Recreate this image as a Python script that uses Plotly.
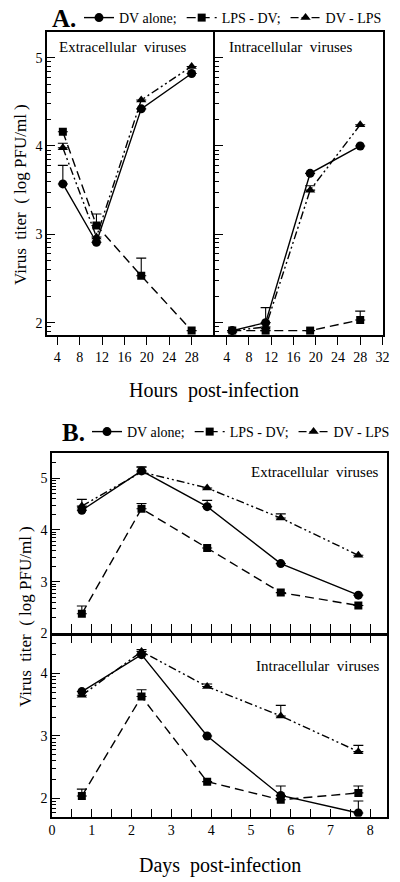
import math
import plotly.graph_objects as go

# ---------------- data ----------------
series_names = ["DV alone;", "LPS - DV;", "DV - LPS"]

# Panel A (hours post-infection)
hours = [5, 11, 19, 28]
a_ext_dv = [3.57, 2.91, 4.42, 4.82]
a_ext_dv_err = [0.21, 0.0, 0.0, 0.0]
a_ext_lpsdv = [4.16, 3.10, 2.53, 1.91]
a_ext_lpsdv_err = [0.0, 0.13, 0.20, 0.0]
a_ext_dvlps = [3.98, 2.97, 4.52, 4.90]
a_ext_dvlps_err = [0.05, 0.0, 0.0, 0.0]

a_int_dv = [1.91, 2.00, 3.69, 4.00]
a_int_dv_err = [0.0, 0.17, 0.0, 0.0]
a_int_lpsdv = [1.91, 1.91, 1.91, 2.03]
a_int_lpsdv_err = [0.0, 0.0, 0.0, 0.10]
a_int_dvlps = [1.91, 1.95, 3.50, 4.24]
a_int_dvlps_err = [0.0, 0.0, 0.05, 0.0]

# Panel B (days post-infection)
days = [0.75, 2.25, 3.9, 5.75, 7.7]
b_ext_dv = [4.38, 5.14, 4.45, 3.35, 2.74]
b_ext_dv_err = [0.0, 0.07, 0.12, 0.0, 0.0]
b_ext_lpsdv = [2.38, 4.41, 3.65, 2.79, 2.54]
b_ext_lpsdv_err = [0.15, 0.10, 0.0, 0.0, 0.0]
b_ext_dvlps = [4.46, 5.12, 4.81, 4.23, 3.51]
b_ext_dvlps_err = [0.13, 0.10, 0.0, 0.08, 0.0]

b_int_dv = [3.71, 4.30, 3.00, 2.05, 1.77]
b_int_dv_err = [0.0, 0.0, 0.0, 0.0, 0.19]
b_int_lpsdv = [2.04, 3.63, 2.27, 1.98, 2.09]
b_int_lpsdv_err = [0.11, 0.11, 0.0, 0.22, 0.11]
b_int_dvlps = [3.65, 4.35, 3.79, 3.32, 2.75]
b_int_dvlps_err = [0.0, 0.03, 0.04, 0.17, 0.10]

a_left_xticks = [4, 8, 12, 16, 20, 24, 28]
a_right_xticks = [4, 8, 12, 16, 20, 24, 28, 32]
a_yticks = [2, 3, 4, 5]
b_upper_yticks = [2, 3, 4, 5]
b_lower_yticks = [2, 3, 4]
b_xticks = [0, 1, 2, 3, 4, 5, 6, 7, 8]

# ---------------- style ----------------
FONT = "Liberation Serif, Times New Roman, Times, serif"
W, H = 400, 882
LW = 1.5
styles = [
    dict(line=dict(color="black", width=1.4, dash="solid"),
         marker=dict(symbol="circle", size=9, color="black")),
    dict(line=dict(color="black", width=1.4, dash="9px,5px"),
         marker=dict(symbol="square", size=8, color="black")),
    dict(line=dict(color="black", width=1.4, dash="8px,3px,2px,3px,2px,3px"),
         marker=dict(symbol="triangle-up", size=9, color="black")),
]

log_minor = [n + math.log10(k) for n in range(1, 6) for k in range(2, 10)]


def px_x(p):
    return p / W


def px_y(p):
    return 1 - p / H


fig = go.Figure()


def add_panel(x, ys, errs, xa, ya, legend, showlegend):
    for i, (y, e) in enumerate(zip(ys, errs)):
        fig.add_trace(go.Scatter(
            x=x, y=y, mode="lines+markers", name=series_names[i],
            xaxis=xa, yaxis=ya, legend=legend, showlegend=showlegend,
            line=styles[i]["line"], marker=styles[i]["marker"],
            error_y=dict(type="data", symmetric=False, array=e,
                         arrayminus=[0] * len(e), color="black",
                         thickness=1.1, width=5),
        ))


add_panel(hours, [a_ext_dv, a_ext_lpsdv, a_ext_dvlps],
          [a_ext_dv_err, a_ext_lpsdv_err, a_ext_dvlps_err], "x", "y", "legend", True)
add_panel(hours, [a_int_dv, a_int_lpsdv, a_int_dvlps],
          [a_int_dv_err, a_int_lpsdv_err, a_int_dvlps_err], "x2", "y2", "legend", False)
add_panel(days, [b_ext_dv, b_ext_lpsdv, b_ext_dvlps],
          [b_ext_dv_err, b_ext_lpsdv_err, b_ext_dvlps_err], "x3", "y3", "legend2", True)
add_panel(days, [b_int_dv, b_int_lpsdv, b_int_dvlps],
          [b_int_dv_err, b_int_lpsdv_err, b_int_dvlps_err], "x4", "y4", "legend2", False)

tickfont = dict(family=FONT, size=14, color="black")
common = dict(showline=True, linecolor="black", linewidth=LW, showgrid=False,
              zeroline=False, tickcolor="black", tickfont=tickfont)

h = LW / 2
A_dom_y = [px_y(335), px_y(32)]
B_up_dom_y = [px_y(634.5 - h), px_y(453.3)]
B_lo_dom_y = [px_y(816.7), px_y(634.5 + h)]
B_dom_x = [px_x(52), px_x(387)]

ymin = dict(tickmode="array", tickvals=log_minor, ticks="inside", ticklen=4,
            tickcolor="black", tickwidth=1)

legend_common = dict(orientation="h", xanchor="left", yanchor="middle",
                     bgcolor="rgba(0,0,0,0)", borderwidth=0,
                     font=dict(family=FONT, size=14, color="black"),
                     itemwidth=30, tracegroupgap=0)

fig.update_layout(
    width=W, height=H, margin=dict(l=0, r=0, t=0, b=0, autoexpand=False),
    paper_bgcolor="white", plot_bgcolor="white",
    font=dict(family=FONT, color="black"),
    xaxis=dict(domain=[px_x(47), px_x(214 - h)], range=[2.17, 31.86], anchor="y",
               mirror=True, ticks="outside", ticklen=8, tickwidth=1.3,
               tickmode="array", tickvals=a_left_xticks, **common),
    yaxis=dict(domain=A_dom_y, range=[1.86, 5.29], anchor="x", mirror=True,
               ticks="inside", ticklen=8, tickwidth=1.3, tickmode="array",
               tickvals=a_yticks, minor=ymin, **common),
    xaxis2=dict(domain=[px_x(214 + h), px_x(383)], range=[1.85, 32.1], anchor="y2",
                mirror=True, ticks="outside", ticklen=8, tickwidth=1.3,
                tickmode="array", tickvals=a_right_xticks, **common),
    yaxis2=dict(domain=A_dom_y, range=[1.86, 5.29], anchor="x2", mirror=True,
                ticks="inside", ticklen=8, tickwidth=1.3, tickmode="array",
                tickvals=a_yticks, showticklabels=False, minor=ymin, **common),
    xaxis3=dict(domain=B_dom_x, range=[0, 8.42], anchor="y3", mirror=True,
                ticks="inside", ticklen=10, tickwidth=1.3, tickmode="array",
                tickvals=b_xticks, showticklabels=False,
                minor=dict(dtick=0.5, tick0=0, ticks="inside", ticklen=10,
                           tickcolor="black", tickwidth=1.3),
                **common),
    yaxis3=dict(domain=B_up_dom_y, range=[1.995, 5.48], anchor="x3", mirror=True,
                ticks="inside", ticklen=8, tickwidth=1.3, tickmode="array",
                tickvals=b_upper_yticks, minor=ymin, **common),
    xaxis4=dict(domain=B_dom_x, range=[0, 8.42], anchor="y4", mirror="ticks",
                ticks="inside", ticklen=8, tickwidth=1.3, tickmode="array",
                tickvals=b_xticks,
                minor=dict(dtick=0.5, tick0=0, ticks="inside", ticklen=8,
                           tickcolor="black", tickwidth=1.3),
                **common),
    yaxis4=dict(domain=B_lo_dom_y, range=[1.71, 4.61], anchor="x4", mirror=True,
                ticks="inside", ticklen=8, tickwidth=1.3, tickmode="array",
                tickvals=b_lower_yticks, minor=ymin, **common),
    legend=dict(x=px_x(79), y=px_y(18), **legend_common),
    legend2=dict(x=px_x(87), y=px_y(432), **legend_common),
)

ann_font = dict(family=FONT, size=15, color="black")
title_font = dict(family=FONT, size=17, color="black")
xt_font = dict(family=FONT, size=20, color="black")
panel_font = dict(family=FONT, size=25, color="black")

fig.add_annotation(text="<b>A.</b>", xref="paper", yref="paper",
                   x=px_x(50), y=px_y(18), xanchor="left", yanchor="middle",
                   showarrow=False, font=panel_font)
fig.add_annotation(text="<b>B.</b>", xref="paper", yref="paper",
                   x=px_x(60), y=px_y(432), xanchor="left", yanchor="middle",
                   showarrow=False, font=panel_font)

fig.add_annotation(text="Extracellular&nbsp;&nbsp;viruses", xref="paper", yref="paper",
                   x=px_x(57), y=px_y(47), xanchor="left", yanchor="middle",
                   showarrow=False, font=ann_font)
fig.add_annotation(text="Intracellular&nbsp;&nbsp;viruses", xref="paper", yref="paper",
                   x=px_x(227), y=px_y(47), xanchor="left", yanchor="middle",
                   showarrow=False, font=ann_font)
fig.add_annotation(text="Extracellular&nbsp;&nbsp;viruses", xref="paper", yref="paper",
                   x=px_x(381), y=px_y(472), xanchor="right", yanchor="middle",
                   showarrow=False, font=ann_font)
fig.add_annotation(text="Intracellular&nbsp;&nbsp;viruses", xref="paper", yref="paper",
                   x=px_x(381), y=px_y(666), xanchor="right", yanchor="middle",
                   showarrow=False, font=ann_font)

fig.add_annotation(text="Virus&nbsp;&nbsp;titer&nbsp;&nbsp;(&nbsp;log PFU/ml&nbsp;)",
                   xref="paper", yref="paper", x=px_x(20), y=px_y(195),
                   xanchor="center", yanchor="middle", textangle=-90,
                   showarrow=False, font=title_font)
fig.add_annotation(text="Virus&nbsp;&nbsp;titer&nbsp;&nbsp;(&nbsp;log PFU/ml&nbsp;)",
                   xref="paper", yref="paper", x=px_x(25), y=px_y(617),
                   xanchor="center", yanchor="middle", textangle=-90,
                   showarrow=False, font=title_font)
fig.add_annotation(text="Hours&nbsp;&nbsp;post-infection", xref="paper", yref="paper",
                   x=px_x(214), y=px_y(390), xanchor="center", yanchor="middle",
                   showarrow=False, font=xt_font)
fig.add_annotation(text="Days&nbsp;&nbsp;post-infection", xref="paper", yref="paper",
                   x=px_x(220), y=px_y(865), xanchor="center", yanchor="middle",
                   showarrow=False, font=xt_font)

fig.write_html(
    "out.html",
    config={"displayModeBar": False},
    post_script="document.body.style.margin='0';document.body.style.padding='0';"
                "document.body.style.overflow='hidden';",
)
